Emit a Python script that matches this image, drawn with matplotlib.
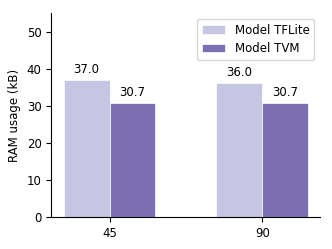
import numpy as np
import matplotlib
matplotlib.use("Agg")
import matplotlib.pyplot as plt

groups = ["45", "90"]
tflite = [37.0, 36.0]
tvm = [30.7, 30.7]

plt.rcParams['font.size'] = 8.5
fig, ax = plt.subplots(figsize=(3.32, 2.49), dpi=100)

x = np.arange(len(groups))
w = 0.3
b1 = ax.bar(x - w / 2, tflite, w, color="#c6c6e3", edgecolor="white", linewidth=0.5, label="Model TFLite")
b2 = ax.bar(x + w / 2, tvm, w, color="#7b6fb1", edgecolor="white", linewidth=0.5, label="Model TVM")
ax.bar_label(b1, fmt="%.1f", padding=3)
ax.bar_label(b2, fmt="%.1f", padding=3)

ax.set_xticks(x)
ax.set_xticklabels(groups)
ax.set_ylim(0, 55)
ax.set_ylabel("RAM usage (kB)")
ax.spines['top'].set_visible(False)
ax.spines['right'].set_visible(False)
ax.legend(loc="upper right")

fig.subplots_adjust(left=0.155, right=0.965, bottom=0.128, top=0.948)
fig.savefig("out.png")
